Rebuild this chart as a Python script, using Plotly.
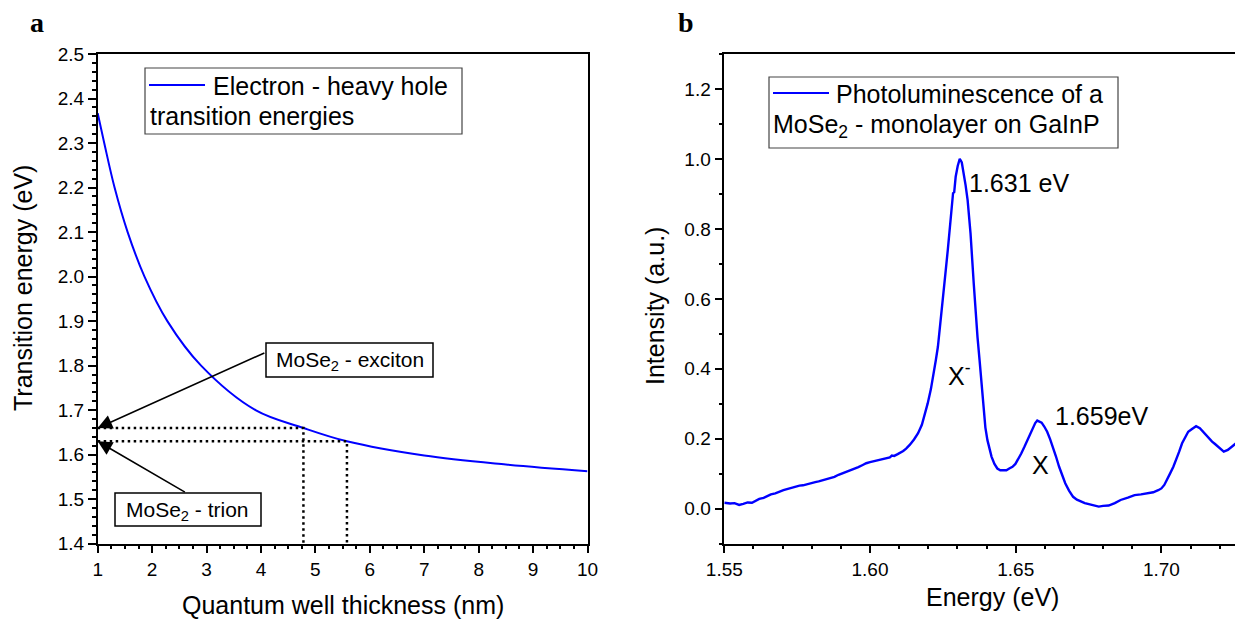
import plotly.graph_objects as go

# ---------------- data ----------------
# Panel a: electron - heavy hole transition energy vs quantum well thickness
thickness_nm = [1, 1.12, 1.31, 1.55, 1.86, 2.28, 2.9, 3.9, 4.78, 5.58, 7.0, 8.5, 10]
transition_eV = [2.367, 2.3, 2.2, 2.1, 2.0, 1.9, 1.8, 1.7, 1.66, 1.63, 1.598, 1.578, 1.563]

exciton_E, exciton_L = 1.66, 4.78
trion_E, trion_L = 1.63, 5.58

# Panel b: photoluminescence spectrum (normalised)
pl_energy = [1.5500, 1.5520, 1.5535, 1.5551, 1.5565, 1.5580, 1.5595, 1.5606, 1.5620, 1.5635,
             1.5648, 1.5660, 1.5675, 1.5690, 1.5703, 1.5715, 1.5730, 1.5745, 1.5758, 1.5770,
             1.5785, 1.5800, 1.5812, 1.5824, 1.5840, 1.5855, 1.5866, 1.5878, 1.5892, 1.5905,
             1.5920, 1.5933, 1.5948, 1.5960, 1.5975, 1.5987, 1.6000, 1.6015, 1.6028, 1.6042,
             1.6055, 1.6068, 1.6075, 1.6083, 1.6095, 1.6105, 1.6114, 1.6124, 1.6137, 1.6151,
             1.6165, 1.6178, 1.6188, 1.6198, 1.6209, 1.6219, 1.6226, 1.6233, 1.6240, 1.6246,
             1.6253, 1.6260, 1.6267, 1.6274, 1.6280, 1.6285, 1.6289, 1.6294, 1.6301, 1.6308,
             1.6315, 1.6322, 1.6328, 1.6335, 1.6345, 1.6356, 1.6362, 1.6369, 1.6376, 1.6383,
             1.6389, 1.6396, 1.6403, 1.6410, 1.6417, 1.6427, 1.6437, 1.6447, 1.6458, 1.6468,
             1.6478, 1.6489, 1.6499, 1.6509, 1.6519, 1.6530, 1.6540, 1.6550, 1.6560, 1.6567,
             1.6574, 1.6582, 1.6589, 1.6598, 1.6608, 1.6618, 1.6628, 1.6638, 1.6649, 1.6660,
             1.6670, 1.6683, 1.6697, 1.6710, 1.6724, 1.6737, 1.6751, 1.6768, 1.6785, 1.6800,
             1.6819, 1.6840, 1.6860, 1.6885, 1.6908, 1.6930, 1.6955, 1.6972, 1.6989, 1.7000,
             1.7010, 1.7020, 1.7030, 1.7041, 1.7051, 1.7061, 1.7071, 1.7082, 1.7092, 1.7105,
             1.7119, 1.7132, 1.7146, 1.7160, 1.7174, 1.7184, 1.7194, 1.7204, 1.7214, 1.7228,
             1.7242, 1.7255, 1.7269, 1.7290]
pl_intensity = [0.017, 0.015, 0.016, 0.011, 0.014, 0.018, 0.017, 0.022, 0.028, 0.031,
                0.037, 0.041, 0.044, 0.050, 0.053, 0.056, 0.060, 0.062, 0.066, 0.067,
                0.071, 0.074, 0.076, 0.078, 0.082, 0.085, 0.087, 0.091, 0.097, 0.101,
                0.106, 0.110, 0.114, 0.119, 0.125, 0.130, 0.133, 0.136, 0.139, 0.142,
                0.146, 0.147, 0.152, 0.151, 0.156, 0.160, 0.165, 0.172, 0.183, 0.198,
                0.216, 0.240, 0.268, 0.301, 0.342, 0.387, 0.425, 0.463, 0.515, 0.560,
                0.620, 0.682, 0.740, 0.797, 0.850, 0.902, 0.905, 0.949, 0.980, 1.000,
                0.990, 0.959, 0.925, 0.882, 0.787, 0.644, 0.559, 0.490, 0.425, 0.350,
                0.282, 0.232, 0.196, 0.168, 0.149, 0.128, 0.115, 0.110, 0.109, 0.110,
                0.115, 0.120, 0.128, 0.142, 0.158, 0.177, 0.196, 0.216, 0.234, 0.245,
                0.252, 0.248, 0.246, 0.235, 0.220, 0.199, 0.177, 0.150, 0.120, 0.095,
                0.073, 0.052, 0.034, 0.026, 0.020, 0.016, 0.013, 0.009, 0.006, 0.008,
                0.009, 0.016, 0.025, 0.032, 0.039, 0.041, 0.044, 0.047, 0.053, 0.058,
                0.068, 0.083, 0.101, 0.120, 0.139, 0.163, 0.187, 0.206, 0.220, 0.228,
                0.236, 0.230, 0.217, 0.205, 0.192, 0.185, 0.177, 0.170, 0.163, 0.168,
                0.177, 0.186, 0.196, 0.205]

a_xticks = list(range(1, 11))
a_yticks = [1.4, 1.5, 1.6, 1.7, 1.8, 1.9, 2.0, 2.1, 2.2, 2.3, 2.4, 2.5]
b_xticks = [1.55, 1.60, 1.65, 1.70]
b_yticks = [0.0, 0.2, 0.4, 0.6, 0.8, 1.0, 1.2]

# ---------------- layout helpers ----------------
# the page body adds an 8 px margin, so the figure is made 8 px smaller
# and all window-pixel positions are shifted by that offset
OFF = 8
W, H = 1243 - OFF, 622 - OFF
def PX(x):
    return (x - OFF) / W
def PY(y):
    return 1 - (y - OFF) / H

FONT = "Liberation Sans, Arial, sans-serif"
BLUE = "#0000FF"
A_XDOM = [PX(97.7), PX(587.5)]
B_XDOM = [PX(724.3), 1.0]
YDOM = [PY(543.7), PY(54)]

fig = go.Figure()

# panel a curve
fig.add_trace(go.Scatter(x=thickness_nm, y=transition_eV, mode="lines",
                         line=dict(color=BLUE, width=2, shape="spline", smoothing=1.0),
                         xaxis="x", yaxis="y", showlegend=False, hoverinfo="skip"))
# dotted guide lines
for L, E in [(exciton_L, exciton_E), (trion_L, trion_E)]:
    fig.add_trace(go.Scatter(x=[thickness_nm[0], L, L], y=[E, E, a_yticks[0]], mode="lines",
                             line=dict(color="black", width=2.5, dash="2.5px,3.5px"),
                             xaxis="x", yaxis="y", showlegend=False, hoverinfo="skip"))
# panel b curve
fig.add_trace(go.Scatter(x=pl_energy, y=pl_intensity, mode="lines",
                         line=dict(color=BLUE, width=2.4),
                         xaxis="x2", yaxis="y2", showlegend=False, hoverinfo="skip"))

tickfont = dict(family=FONT, size=19, color="black")
common = dict(showgrid=False, zeroline=False, linecolor="black", linewidth=1.5,
              tickcolor="black", tickwidth=1.5, tickfont=tickfont, automargin=False)

a_xr = [1, 10]
a_yr = [1.4, 2.5]
b_xr = [1.55, 1.55 + (1243 - 724.3) / 145.7 * 0.05]
b_yr = [-0.1, 1.3]

def minor(dt, t0, where, ln):
    return dict(dtick=dt, tick0=t0, ticks=where, ticklen=ln, tickwidth=1.5, tickcolor="black")

fig.update_layout(
    width=W, height=H,
    margin=dict(l=0, r=0, t=0, b=0, autoexpand=False),
    paper_bgcolor="white", plot_bgcolor="white",
    showlegend=False,
    xaxis=dict(domain=A_XDOM, anchor="y", range=a_xr, tickvals=a_xticks, ticks="outside",
               ticklen=8, showline=True, mirror=True, minor=minor(0.25, 1, "outside", 4), **common),
    yaxis=dict(domain=YDOM, anchor="x", range=a_yr, tickvals=a_yticks, tickformat=".1f",
               ticks="outside", ticklen=8, showline=True, mirror=True,
               minor=minor(0.02, 1.4, "outside", 4), **common),
    xaxis3=dict(domain=A_XDOM, anchor="y", overlaying="x", side="top", range=a_xr,
                tickvals=a_xticks, ticks="inside", ticklen=8, showticklabels=False, showline=False,
                minor=minor(0.25, 1, "inside", 4), **common),
    yaxis3=dict(domain=YDOM, anchor="x", overlaying="y", side="right", range=a_yr,
                tickvals=a_yticks, ticks="inside", ticklen=8, showticklabels=False, showline=False,
                minor=minor(0.02, 1.4, "inside", 4), **common),
    xaxis2=dict(domain=B_XDOM, anchor="y2", range=b_xr, tickvals=b_xticks, tickformat=".2f",
                ticks="outside", ticklen=8, showline=True, mirror=True,
                minor=minor(0.01, 1.55, "outside", 4), **common),
    yaxis2=dict(domain=YDOM, anchor="x2", range=b_yr, tickvals=b_yticks, tickformat=".1f",
                ticks="outside", ticklen=8, showline=True, mirror=False,
                minor=minor(0.1, 0, "outside", 4), **common),
    xaxis4=dict(domain=B_XDOM, anchor="y2", overlaying="x2", side="top", range=b_xr,
                tickvals=b_xticks, ticks="inside", ticklen=8, showticklabels=False, showline=False,
                minor=minor(0.01, 1.55, "inside", 4), **common),
    yaxis4=dict(domain=YDOM, anchor="x2", overlaying="y2", side="right", range=b_yr,
                tickvals=b_yticks, ticks="inside", ticklen=6, showticklabels=False, showline=False,
                minor=minor(0.1, 0, "inside", 3), **common),
)

annotations = []
shapes = []

def text(x, y, s, size=25, xanchor="center", yanchor="middle", angle=0, family=FONT, align="left"):
    annotations.append(dict(x=PX(x), y=PY(y), xref="paper", yref="paper", text=s,
                            showarrow=False, xanchor=xanchor, yanchor=yanchor, textangle=angle,
                            align=align, font=dict(family=family, size=size, color="black")))

def box(x0, y0, x1, y1, color="black", width=1.5):
    shapes.append(dict(type="rect", xref="paper", yref="paper", x0=PX(x0), x1=PX(x1),
                       y0=PY(y1), y1=PY(y0), line=dict(color=color, width=width),
                       fillcolor="white", layer="above"))

def hline(x0, x1, y, color=BLUE, width=2):
    shapes.append(dict(type="line", xref="paper", yref="paper", x0=PX(x0), x1=PX(x1),
                       y0=PY(y), y1=PY(y), line=dict(color=color, width=width), layer="above"))

# panel labels
text(37, 22, "<b>a</b>", size=28, family="Liberation Serif, Times New Roman, serif")
text(686, 22, "<b>b</b>", size=28, family="Liberation Serif, Times New Roman, serif")

# axis titles
text(343, 605, "Quantum well thickness (nm)", size=25)
text(23, 288, "Transition energy (eV)", size=25, angle=-90)
text(992, 597, "Energy (eV)", size=25)
text(655, 306, "Intensity (a.u.)", size=25, angle=-90)

# legend a
box(145, 68, 462, 134, color="#444444", width=1.2)
hline(149, 205, 85)
text(211, 86, "Electron - heavy hole", xanchor="left")
text(148, 116, "transition energies", xanchor="left")

# legend b
box(769, 77, 1118, 148, color="#444444", width=1.2)
hline(773, 829, 93)
text(834, 94, "Photoluminescence of a", xanchor="left")
text(771, 126, "MoSe<sub>2</sub> - monolayer on GaInP", xanchor="left")

# panel a boxed labels
box(266, 343, 433, 377)
text(350, 361, "MoSe<sub>2</sub> - exciton", size=21)
box(115, 493, 261, 526)
text(188, 511, "MoSe<sub>2</sub> - trion", size=21)

# arrows (tail at label box, head at the energy on the axis)
annotations.append(dict(x=thickness_nm[0], y=exciton_E, xref="x", yref="y",
                        ax=4.09, ay=1.830, axref="x", ayref="y", text="", showarrow=True,
                        arrowhead=2, arrowsize=1.8, arrowwidth=1.6, arrowcolor="black", standoff=0))
annotations.append(dict(x=thickness_nm[0], y=trion_E, xref="x", yref="y",
                        ax=2.63, ay=1.514, axref="x", ayref="y", text="", showarrow=True,
                        arrowhead=2, arrowsize=1.8, arrowwidth=1.6, arrowcolor="black", standoff=0))

# panel b peak labels
text(967, 183, "1.631 eV", xanchor="left")
text(1053, 416, "1.659eV", xanchor="left")
text(946, 374, "X<sup>-</sup>", xanchor="left")
text(1040, 465, "X")

fig.update_layout(annotations=annotations, shapes=shapes)
fig.write_html("out.html")
